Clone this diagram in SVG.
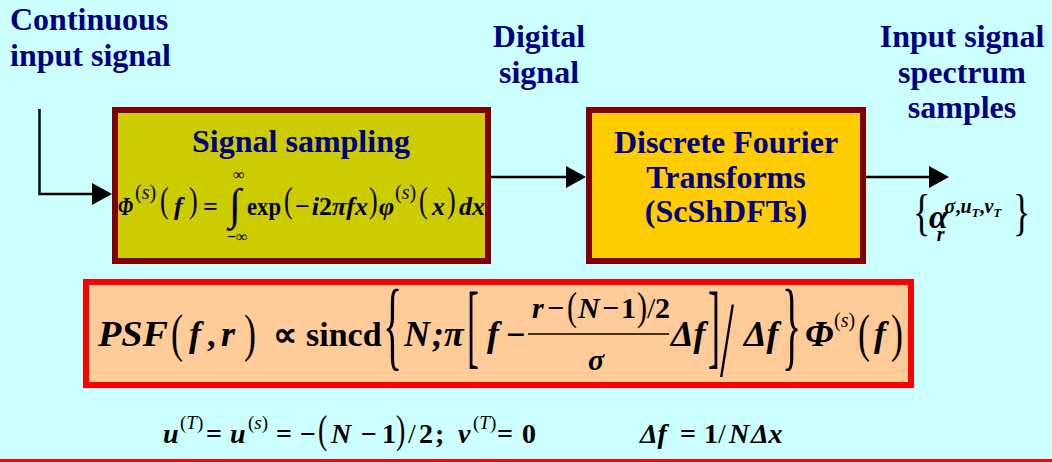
<svg xmlns="http://www.w3.org/2000/svg" width="1052" height="462" viewBox="0 0 1052 462">
<defs>
<marker id="ah" markerUnits="userSpaceOnUse" markerWidth="20" markerHeight="22" refX="0" refY="11" orient="auto"><path d="M0,0 L20,11 L0,22 z" fill="#000"/></marker>
<style>
text{font-family:"Liberation Serif","Times New Roman",serif;fill:#000}
.lbl{font-size:32px;font-weight:bold;fill:#000080;text-anchor:middle}
.mi{font-size:26px;font-weight:bold;font-style:italic}
.mr{font-size:26px;font-weight:bold}
.p{font-size:26px}
.sup{font-size:20px}
.si{font-style:italic}
.bi{font-size:36px;font-weight:bold;font-style:italic}
.br{font-size:34px;font-weight:bold}
.bp{font-size:36px}
.ni{font-size:30px;font-weight:bold;font-style:italic}
.nr{font-size:30px;font-weight:bold}
.ui{font-size:28px;font-weight:bold;font-style:italic}
.ur{font-size:28px;font-weight:bold}
.conn{fill:none;stroke:#000;stroke-width:2.5}
.b1{fill:#CCCC00;stroke:#800000;stroke-width:6}
.b2{fill:#FFCC00;stroke:#800000;stroke-width:6}
.b3{fill:#FFCC99;stroke:#FF0000;stroke-width:6}
</style>
</defs>
<rect x="0" y="0" width="1052" height="462" fill="#CCFFFF"/>
<rect x="0" y="459" width="1052" height="3" fill="#FF0000"/>

<g id="labels">
<text class="lbl" x="10" y="30" style="text-anchor:start">Continuous</text>
<text class="lbl" x="10" y="66" style="text-anchor:start">input signal</text>
<text class="lbl" x="539" y="47">Digital</text>
<text class="lbl" x="539" y="83">signal</text>
<text class="lbl" x="962" y="47">Input signal</text>
<text class="lbl" x="962" y="83">spectrum</text>
<text class="lbl" x="962" y="118">samples</text>
</g>

<g id="connectors">
<path class="conn" d="M39.5,109 V194 H92" marker-end="url(#ah)"/>
<path class="conn" d="M491,177 H566" marker-end="url(#ah)"/>
<path class="conn" d="M866,177 H929" marker-end="url(#ah)"/>
</g>

<g id="sampling">
<rect class="b1" x="115" y="110" width="373" height="151"/>
<text class="lbl" x="301" y="152">Signal sampling</text>
<text class="mi" x="118" y="215" textLength="15" lengthAdjust="spacingAndGlyphs">Φ</text>
<text class="sup" x="135" y="199">(<tspan class="si">s</tspan>)</text>
<text class="p" transform="translate(160,212) scale(1,1.35)">(</text>
<text class="mi" x="174" y="215">f</text>
<text class="p" transform="translate(189,212) scale(1,1.35)">)</text>
<text class="mr" x="203" y="215">=</text>
<text class="p" x="229" y="219" style="font-size:44px">∫</text>
<text class="mr" x="233" y="180" style="font-size:16px">∞</text>
<text class="mr" x="227" y="242" style="font-size:16px">−∞</text>
<text class="mr" x="247" y="215" textLength="34" lengthAdjust="spacingAndGlyphs">exp</text>
<text class="p" transform="translate(284,212) scale(1,1.35)">(</text>
<text class="mr" x="295" y="215">−<tspan class="si" dx="2">i</tspan>2<tspan class="si">πfx</tspan></text>
<text class="p" transform="translate(369,212) scale(1,1.35)">)</text>
<text class="mi" x="379" y="215">φ</text>
<text class="sup" x="395" y="199">(<tspan class="si">s</tspan>)</text>
<text class="p" transform="translate(419,212) scale(1,1.35)">(</text>
<text class="mi" x="432" y="215">x</text>
<text class="p" transform="translate(447,212) scale(1,1.35)">)</text>
<text class="mi" x="459" y="215">dx</text>
</g>

<g id="dft">
<rect class="b2" x="589" y="110" width="274" height="151"/>
<text class="lbl" x="726" y="153">Discrete Fourier</text>
<text class="lbl" x="726" y="188">Transforms</text>
<text class="lbl" x="726" y="222">(ScShDFTs)</text>
</g>

<g id="output">
<text class="p" transform="translate(913,229) scale(1,1.4)" style="font-size:36px">{</text>
<text class="ui" x="929" y="228" style="font-size:34px">α<tspan dx="-11" dy="13" style="font-size:20px">r</tspan><tspan dy="-28" style="font-size:20px">σ<tspan style="font-style:normal">,</tspan>u<tspan dy="4" style="font-size:13px">T</tspan><tspan dy="-4" style="font-style:normal">,</tspan>v<tspan dy="4" style="font-size:13px">T</tspan></tspan></text>
<text class="p" transform="translate(1013,229) scale(1,1.4)" style="font-size:36px">}</text>
</g>

<g id="psf">
<rect class="b3" x="86" y="282" width="825" height="103"/>
<text class="bi" x="98" y="346" textLength="70" lengthAdjust="spacingAndGlyphs">PSF</text>
<text class="bp" transform="translate(171,351) scale(1,1.45)">(</text>
<text class="bi" x="189" y="346">f</text>
<text class="br" x="207" y="346">,</text>
<text class="bi" x="221" y="346">r</text>
<text class="bp" transform="translate(244,351) scale(1,1.45)">)</text>
<text class="br" x="273" y="346">∝</text>
<text class="br" x="306" y="346">sincd</text>
<text class="p" transform="translate(383,358) scale(1,2.5)" style="font-size:40px">{</text>
<text class="bi" x="404" y="346">N<tspan class="br" style="font-size:36px" dx="2">;</tspan></text>
<text class="bi" x="444" y="346">π</text>
<text class="bp" transform="translate(467,357) scale(1,2.6)">[</text>
<text class="bi" x="487" y="346">f</text>
<text class="br" x="506" y="346">−</text>
<line x1="528" y1="334" x2="669" y2="334" stroke="#000" stroke-width="1.6"/>
<text class="ni" x="532" y="318">r</text>
<text class="nr" x="547" y="318">−</text>
<text class="p" transform="translate(567,320) scale(1,1.3)" style="font-size:30px">(</text>
<text class="ni" x="578" y="318">N</text>
<text class="nr" x="602" y="318">−</text>
<text class="nr" x="621" y="318">1</text>
<text class="p" transform="translate(637,320) scale(1,1.3)" style="font-size:30px">)</text>
<text class="p" x="647" y="318" style="font-size:30px">/</text>
<text class="nr" x="655" y="318">2</text>
<text class="ni" x="588" y="370">σ</text>
<text class="bi" x="671" y="346">Δf</text>
<text class="bp" transform="translate(708,357) scale(1,2.6)">]</text>
<text class="bp" transform="translate(720,376) scale(1.4,3)">/</text>
<text class="bi" x="744" y="346">Δf</text>
<text class="p" transform="translate(782,358) scale(1,2.5)" style="font-size:40px">}</text>
<text class="bi" x="805" y="346">Φ</text>
<text class="sup" x="834" y="327">(<tspan class="si">s</tspan>)</text>
<text class="bp" transform="translate(858,351) scale(1,1.45)">(</text>
<text class="bi" x="874" y="346">f</text>
<text class="bp" transform="translate(891,351) scale(1,1.45)">)</text>
</g>

<g id="params">
<text class="ui" x="163" y="443">u</text>
<text class="sup" x="180" y="429" style="font-size:19px">(<tspan class="si">T</tspan>)</text>
<text class="ur" x="206" y="443">=</text>
<text class="ui" x="230" y="443">u</text>
<text class="sup" x="248" y="429" style="font-size:19px">(<tspan class="si">s</tspan>)</text>
<text class="ur" x="276" y="443">=</text>
<text class="ur" x="300" y="443">−</text>
<text class="p" transform="translate(318,443) scale(1,1.4)" style="font-size:28px">(</text>
<text class="ui" x="331" y="443">N</text>
<text class="ur" x="361" y="443">−</text>
<text class="ur" x="382" y="443">1</text>
<text class="p" transform="translate(396,443) scale(1,1.4)" style="font-size:28px">)</text>
<text class="p" x="408" y="443" style="font-size:28px">/</text>
<text class="ur" x="419" y="443">2</text>
<text class="ur" x="435" y="443">;</text>
<text class="ui" x="458" y="443">v</text>
<text class="sup" x="473" y="429" style="font-size:19px">(<tspan class="si">T</tspan>)</text>
<text class="ur" x="497" y="443">=</text>
<text class="ur" x="522" y="443">0</text>
<text class="ui" x="640" y="443">Δf</text>
<text class="ur" x="680" y="443">=</text>
<text class="ur" x="704" y="443">1</text>
<text class="p" x="718" y="443" style="font-size:28px">/</text>
<text class="ui" x="729" y="443">N</text>
<text class="ui" x="751" y="443">Δx</text>
</g>
</svg>
